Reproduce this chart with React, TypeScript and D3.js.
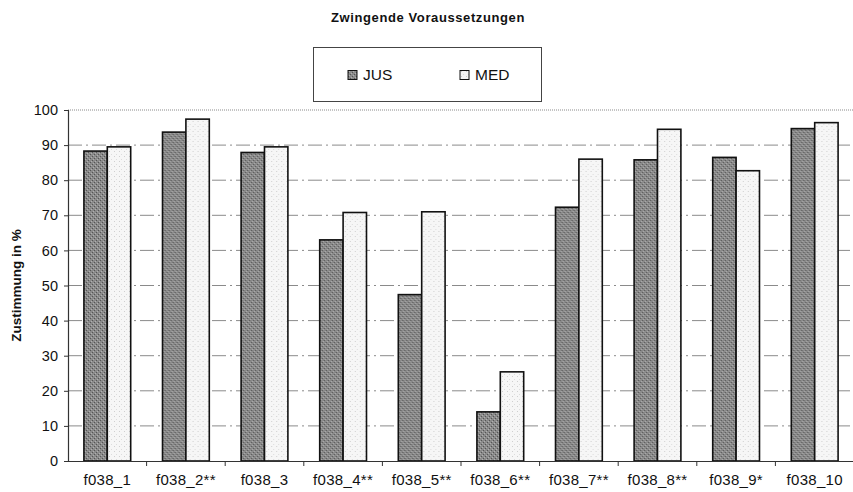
import React, { useEffect, useRef } from 'react';
import * as d3 from 'd3';

const categories = ['f038_1', 'f038_2**', 'f038_3', 'f038_4**', 'f038_5**', 'f038_6**', 'f038_7**', 'f038_8**', 'f038_9*', 'f038_10'];
const seriesNames = ['JUS', 'MED'];
const jusValues = [88.3, 93.7, 87.9, 63.0, 47.4, 14.0, 72.3, 85.8, 86.5, 94.7];
const medValues = [89.5, 97.4, 89.5, 70.8, 71.0, 25.4, 86.0, 94.5, 82.7, 96.4];
const yTicks = [0, 10, 20, 30, 40, 50, 60, 70, 80, 90, 100];

const W = 853;
const H = 492;

const App = () => {
    const ref = useRef<SVGSVGElement>(null);

    useEffect(() => {
        const svg = d3.select(ref.current);
        svg.selectAll('*').remove();

        const margin = { top: 110, right: -1, bottom: 31, left: 68 };
        const font = 'Liberation Sans, Arial, sans-serif';

        // textures for the scanned look
        const defs = svg.append('defs');
        const pJus = defs.append('pattern').attr('id', 'pJus').attr('width', 4).attr('height', 4).attr('patternUnits', 'userSpaceOnUse');
        pJus.append('rect').attr('width', 4).attr('height', 4).attr('fill', '#8a8a8a');
        pJus.append('rect').attr('x', 0).attr('y', 0).attr('width', 1).attr('height', 1).attr('fill', '#555');
        pJus.append('rect').attr('x', 2).attr('y', 2).attr('width', 1).attr('height', 1).attr('fill', '#555');
        pJus.append('rect').attr('x', 1).attr('y', 3).attr('width', 1).attr('height', 1).attr('fill', '#b0b0b0');
        pJus.append('rect').attr('x', 3).attr('y', 1).attr('width', 1).attr('height', 1).attr('fill', '#b0b0b0');
        const pMed = defs.append('pattern').attr('id', 'pMed').attr('width', 5).attr('height', 5).attr('patternUnits', 'userSpaceOnUse');
        pMed.append('rect').attr('width', 5).attr('height', 5).attr('fill', '#f6f6f6');
        pMed.append('rect').attr('x', 1).attr('y', 1).attr('width', 1).attr('height', 1).attr('fill', '#cfcfcf');
        pMed.append('rect').attr('x', 3).attr('y', 4).attr('width', 1).attr('height', 1).attr('fill', '#dcdcdc');

        const x = d3.scaleBand<string>()
            .domain(categories)
            .range([margin.left, W - margin.right])
            .paddingInner(0)
            .paddingOuter(0);

        const x1 = d3.scaleBand<string>()
            .domain(seriesNames)
            .range([0, x.bandwidth()])
            .paddingInner(0)
            .paddingOuter(0.68);

        const y = d3.scaleLinear()
            .domain([0, 100])
            .range([H - margin.bottom, margin.top]);

        // gridlines
        svg.append('g')
            .selectAll('line')
            .data(yTicks.filter(t => t > 0))
            .join('line')
            .attr('x1', margin.left)
            .attr('x2', W)
            .attr('y1', d => y(d))
            .attr('y2', d => y(d))
            .attr('stroke', '#8a8a8a')
            .attr('stroke-width', 1)
            .attr('stroke-dasharray', d => (d === 100 ? '1,1' : '14,4,2,4'));

        // bars
        const data = categories.map((c, i) => ({ cat: c, JUS: jusValues[i], MED: medValues[i] }));
        const groups = svg.append('g')
            .selectAll('g')
            .data(data)
            .join('g')
            .attr('transform', d => `translate(${x(d.cat)},0)`);

        groups.selectAll('rect')
            .data(d => seriesNames.map(s => ({ key: s, value: (d as any)[s] as number })))
            .join('rect')
            .attr('x', d => x1(d.key)!)
            .attr('y', d => y(d.value))
            .attr('width', x1.bandwidth())
            .attr('height', d => y(0) - y(d.value))
            .attr('fill', d => (d.key === 'JUS' ? 'url(#pJus)' : 'url(#pMed)'))
            .attr('stroke', '#111')
            .attr('stroke-width', 1.6);

        // y axis
        const yAxis = svg.append('g')
            .attr('transform', `translate(${margin.left},0)`)
            .call(d3.axisLeft(y).tickValues(yTicks).tickSize(4).tickPadding(6));
        yAxis.select('.domain').attr('stroke', '#333').attr('stroke-width', 1.2);
        yAxis.selectAll('.tick line').attr('stroke', '#333');
        yAxis.selectAll('text').attr('font-family', font).attr('font-size', 14.5).attr('fill', '#111');

        // x axis
        const xAxis = svg.append('g')
            .attr('transform', `translate(0,${y(0)})`)
            .call(d3.axisBottom(x).tickSize(0).tickPadding(13));
        xAxis.select('.domain').attr('stroke', '#333').attr('stroke-width', 1.2);
        xAxis.selectAll('text').attr('font-family', font).attr('font-size', 15).attr('letter-spacing', 0.3).attr('fill', '#111');
        xAxis.selectAll('line.sep')
            .data(categories)
            .join('line')
            .attr('class', 'sep')
            .attr('x1', d => x(d)! + x.bandwidth())
            .attr('x2', d => x(d)! + x.bandwidth())
            .attr('y1', 0)
            .attr('y2', 5)
            .attr('stroke', '#333');

        // y label
        svg.append('text')
            .attr('transform', `translate(21,${(y(0) + y(100)) / 2}) rotate(-90)`)
            .attr('text-anchor', 'middle')
            .attr('font-family', font)
            .attr('font-size', 13.5)
            .attr('font-weight', 'bold')
            .attr('fill', '#111')
            .text('Zustimmung in %');

        // title
        svg.append('text')
            .attr('x', 428)
            .attr('y', 22)
            .attr('text-anchor', 'middle')
            .attr('font-family', font)
            .attr('font-size', 13)
            .attr('font-weight', 'bold')
            .attr('letter-spacing', 0.6)
            .attr('fill', '#111')
            .text('Zwingende Voraussetzungen');

        // legend
        const lg = svg.append('g');
        lg.append('rect')
            .attr('x', 313.5).attr('y', 47.5)
            .attr('width', 228).attr('height', 54)
            .attr('fill', 'white')
            .attr('stroke', '#444');
        seriesNames.forEach((s, i) => {
            const lx = 348 + i * 112;
            lg.append('rect')
                .attr('x', lx).attr('y', 70.5)
                .attr('width', 9).attr('height', 9)
                .attr('fill', s === 'JUS' ? 'url(#pJus)' : 'url(#pMed)')
                .attr('stroke', '#111');
            lg.append('text')
                .attr('x', lx + 15).attr('y', 80)
                .attr('font-family', font)
                .attr('font-size', 15.5)
                .attr('fill', '#111')
                .text(s);
        });
    }, []);

    return (
        <svg ref={ref} width={W} height={H} style={{ position: 'absolute', left: 0, top: 0, background: 'white' }} />
    );
};

export default App;
